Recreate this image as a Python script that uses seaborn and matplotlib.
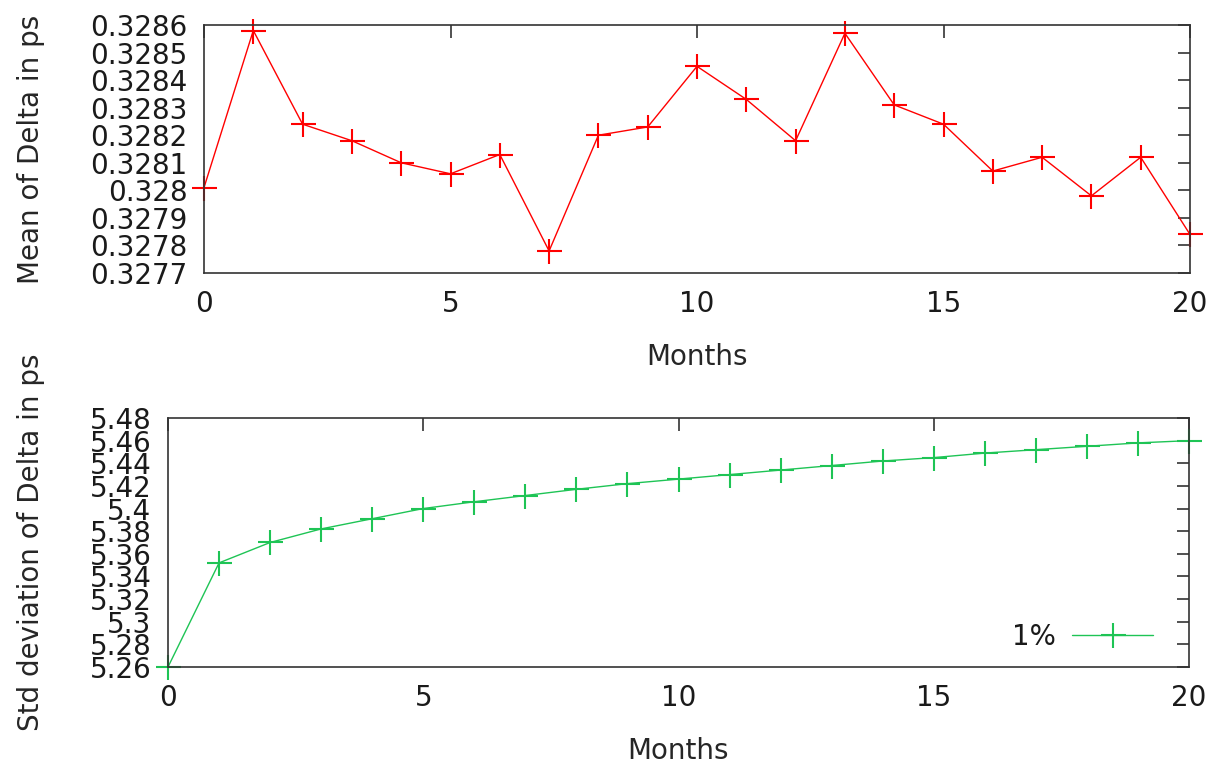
import numpy as np
import pandas as pd
import matplotlib
matplotlib.use("Agg")
import matplotlib.pyplot as plt
import seaborn as sns

# values
months = list(range(21))
mean_delta = [0.32801, 0.32858, 0.32824, 0.32818, 0.32810, 0.32806, 0.32813,
              0.32778, 0.32820, 0.32823, 0.32845, 0.32833, 0.32818, 0.32857,
              0.32831, 0.32824, 0.32807, 0.32812, 0.32798, 0.32812, 0.32784]
std_delta = [5.260, 5.352, 5.370, 5.382, 5.391, 5.400, 5.406, 5.4115, 5.417,
             5.422, 5.426, 5.430, 5.434, 5.438, 5.442, 5.445, 5.449, 5.452,
             5.455, 5.458, 5.460]

mean_ticks = [0.3277, 0.3278, 0.3279, 0.328, 0.3281, 0.3282, 0.3283, 0.3284, 0.3285, 0.3286]
mean_labels = ["0.3277", "0.3278", "0.3279", "0.328", "0.3281", "0.3282",
               "0.3283", "0.3284", "0.3285", "0.3286"]
std_ticks = [5.26, 5.28, 5.30, 5.32, 5.34, 5.36, 5.38, 5.40, 5.42, 5.44, 5.46, 5.48]
std_labels = ["5.26", "5.28", "5.3", "5.32", "5.34", "5.36", "5.38", "5.4",
              "5.42", "5.44", "5.46", "5.48"]
month_ticks = [0, 5, 10, 15, 20]

df = pd.DataFrame({"Months": months, "mean": mean_delta, "std": std_delta})

sns.set_style("white")
plt.rcParams["font.family"] = ["DejaVu Sans"]
plt.rcParams["text.color"] = "#1a1a1a"

W, H = 1230, 763
FS = 20
fig = plt.figure(figsize=(W / 100, H / 100), dpi=100)


def px_axes(left, top, right, bottom):
    return fig.add_axes([left / W, 1 - bottom / H, (right - left) / W, (bottom - top) / H])


def style_axes(ax, left, right):
    for s in ax.spines.values():
        s.set_visible(True)
        s.set_color("#333333")
        s.set_linewidth(1.2)
    ax.tick_params(direction="in", length=9, width=1.2, color="#333333",
                   top=True, right=True, labelsize=FS, pad=12,
                   labelcolor="#1a1a1a")
    ax.set_xlim(0, 20)
    ax.set_xticks(month_ticks)
    ax.set_xlabel("Months", fontsize=FS, labelpad=18)
    ax.yaxis.label.set_va("center")
    ax.yaxis.set_label_coords((31 - left) / (right - left), 0.5)


# top panel: mean
ax1 = px_axes(204, 25, 1190, 273)
sns.lineplot(data=df, x="Months", y="mean", ax=ax1, color="#ff0000",
             linewidth=1.0, marker="+", markersize=18, markeredgewidth=1.5,
             markeredgecolor="#ff0000", clip_on=False)
ax1.set_ylim(0.3277, 0.3286)
ax1.set_yticks(mean_ticks)
ax1.set_yticklabels(mean_labels)
ax1.set_ylabel("Mean of Delta in ps", fontsize=FS)
style_axes(ax1, 204, 1190)

# bottom panel: std deviation
ax2 = px_axes(168, 418, 1189, 667)
sns.lineplot(data=df, x="Months", y="std", ax=ax2, color="#1ec455",
             linewidth=1.0, marker="+", markersize=18, markeredgewidth=1.5,
             markeredgecolor="#1ec455", clip_on=False, label="1%")
ax2.set_ylim(5.26, 5.48)
ax2.set_yticks(std_ticks)
ax2.set_yticklabels(std_labels)
ax2.set_ylabel("Std deviation of Delta in ps", fontsize=FS)
style_axes(ax2, 168, 1189)
ax2.legend(loc="center right", bbox_to_anchor=((1153 - 168) / 1021, (667 - 637) / 249),
           frameon=False, markerfirst=False, fontsize=FS, handlelength=2.9,
           handletextpad=0.6, borderaxespad=0, borderpad=0, numpoints=1)

fig.savefig("out.png", dpi=100)
